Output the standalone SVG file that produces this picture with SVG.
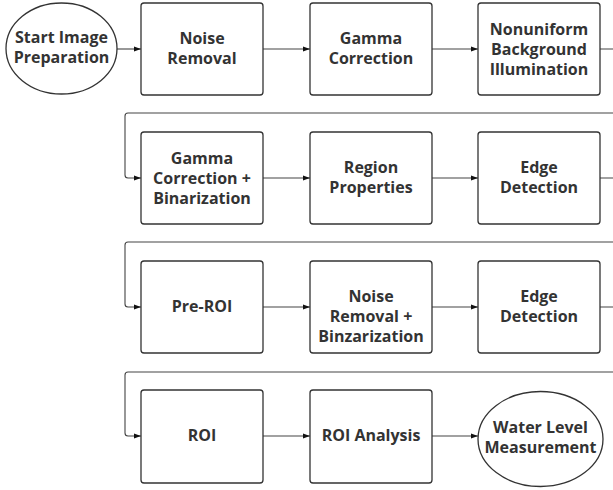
<svg xmlns="http://www.w3.org/2000/svg" width="613" height="490" viewBox="0 0 613 490">
<defs>
<marker id="arr" markerUnits="userSpaceOnUse" markerWidth="8" markerHeight="6" refX="7" refY="3" orient="auto">
<path d="M0,0.5 L7,3 L0,5.5 Z" fill="#111"/>
</marker>
<style>
.box{fill:#fff;stroke:#333;stroke-width:1.3}
.t{font-family:"Open Sans","Liberation Sans",sans-serif;font-weight:700;font-size:16px;fill:#333;text-anchor:middle}
.c{fill:none;stroke:#444;stroke-width:1.1}
</style>
</defs>
<rect width="613" height="490" fill="#fff"/>
<g id="connectors">
<path class="c" d="M117,49 H141" marker-end="url(#arr)"/>
<path class="c" d="M263,49 H310" marker-end="url(#arr)"/>
<path class="c" d="M432,49 H478" marker-end="url(#arr)"/>
<path class="c" d="M600,49 H620 V113 H128 Q125,113 125,116 V175 Q125,178 128,178 H141" marker-end="url(#arr)"/>
<path class="c" d="M263,178 H310" marker-end="url(#arr)"/>
<path class="c" d="M432,178 H478" marker-end="url(#arr)"/>
<path class="c" d="M600,178 H620 V242 H128 Q125,242 125,245 V304 Q125,307 128,307 H141" marker-end="url(#arr)"/>
<path class="c" d="M263,307 H310" marker-end="url(#arr)"/>
<path class="c" d="M432,307 H478" marker-end="url(#arr)"/>
<path class="c" d="M600,307 H620 V372 H128 Q125,372 125,375 V433 Q125,436 128,436 H141" marker-end="url(#arr)"/>
<path class="c" d="M263,436 H310" marker-end="url(#arr)"/>
<path class="c" d="M432,436 H478" marker-end="url(#arr)"/>
</g>
<g id="start"><ellipse class="box" cx="61.5" cy="48.5" rx="55.5" ry="45.5"/><text class="t" x="61.5" y="43">Start Image</text><text class="t" x="61.5" y="63">Preparation</text></g>
<g id="noise1"><rect class="box" x="141" y="3" width="122" height="92" rx="3"/><text class="t" x="202" y="44">Noise</text><text class="t" x="202" y="64">Removal</text></g>
<g id="gamma1"><rect class="box" x="310" y="3" width="122" height="92" rx="3"/><text class="t" x="371" y="44">Gamma</text><text class="t" x="371" y="64">Correction</text></g>
<g id="nonuniform"><rect class="box" x="478" y="3" width="122" height="92" rx="3"/><text class="t" x="539" y="35">Nonuniform</text><text class="t" x="539" y="55">Background</text><text class="t" x="539" y="75">Illumination</text></g>
<g id="gamma2"><rect class="box" x="141" y="132" width="122" height="92" rx="3"/><text class="t" x="202" y="164">Gamma</text><text class="t" x="202" y="184">Correction +</text><text class="t" x="202" y="204">Binarization</text></g>
<g id="region"><rect class="box" x="310" y="132" width="122" height="92" rx="3"/><text class="t" x="371" y="173">Region</text><text class="t" x="371" y="193">Properties</text></g>
<g id="edge1"><rect class="box" x="478" y="132" width="122" height="92" rx="3"/><text class="t" x="539" y="173">Edge</text><text class="t" x="539" y="193">Detection</text></g>
<g id="preroi"><rect class="box" x="141" y="261" width="122" height="92" rx="3"/><text class="t" x="202" y="312">Pre-ROI</text></g>
<g id="noise2"><rect class="box" x="310" y="261" width="122" height="92" rx="3"/><text class="t" x="371" y="302">Noise</text><text class="t" x="371" y="322">Removal +</text><text class="t" x="371" y="342">Binzarization</text></g>
<g id="edge2"><rect class="box" x="478" y="261" width="122" height="92" rx="3"/><text class="t" x="539" y="302">Edge</text><text class="t" x="539" y="322">Detection</text></g>
<g id="roi"><rect class="box" x="141" y="390" width="122" height="93" rx="3"/><text class="t" x="202" y="441">ROI</text></g>
<g id="roianalysis"><rect class="box" x="310" y="390" width="122" height="93" rx="3"/><text class="t" x="371" y="441">ROI Analysis</text></g>
<g id="water"><ellipse class="box" cx="540.5" cy="439" rx="62.5" ry="47.5"/><text class="t" x="540.5" y="433">Water Level</text><text class="t" x="540.5" y="453">Measurement</text></g>
</svg>
